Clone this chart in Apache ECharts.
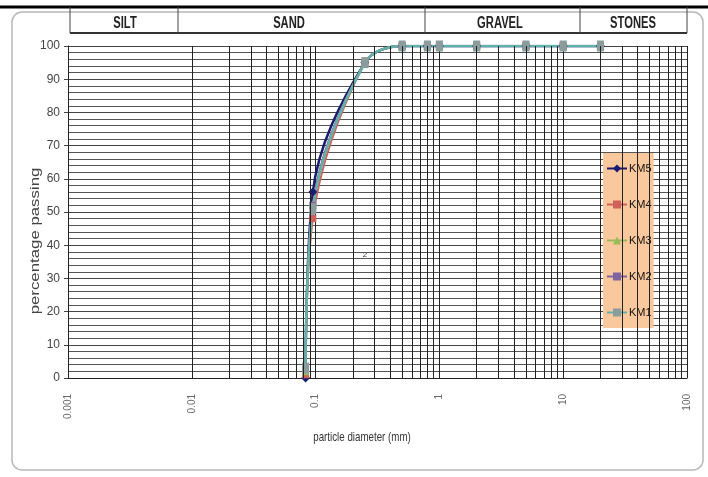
<!DOCTYPE html>
<html>
<head>
<meta charset="utf-8">
<script src="https://cdn.jsdelivr.net/npm/echarts@6/dist/echarts.min.js"></script>
<style>
  html, body { margin: 0; padding: 0; background: #fff; }
  #chart { width: 708px; height: 477px; }
</style>
</head>
<body>
<div id="chart"></div>
<script>
// sieve sizes (mm) and percentage passing for each sample
var sizes = [0.083, 0.095, 0.25, 0.5, 0.8, 1, 2, 5, 10, 20];
var km5 = [0, 56, 95, 100, 100, 100, 100, 100, 100, 100];
var km4 = [1, 48, 95, 100, 100, 100, 100, 100, 100, 100];
var km3 = [2, 52, 95, 100, 100, 100, 100, 100, 100, 100];
var km2 = [3, 52, 95, 100, 100, 100, 100, 100, 100, 100];
var km1 = [3, 51, 95, 100, 100, 100, 100, 100, 100, 100];

var xTickLabels = ["0.001", "0.01", "0.1", "1", "10", "100"];
var soilClasses = ["SILT", "SAND", "GRAVEL", "STONES"];

var font = "'Liberation Sans', sans-serif";

function pairs(vals) {
  return sizes.map(function (s, i) { return [s, vals[i]]; });
}

// log grid lines at 2..9 of every decade
var logLines = [];
for (var e = -3; e <= 1; e++) {
  for (var m = 2; m <= 9; m++) {
    logLines.push({ xAxis: m * Math.pow(10, e) });
  }
}

var chart = echarts.init(document.getElementById("chart"));

var option = {
  backgroundColor: "#fff",
  animation: false,
  grid: { left: 68, right: 21, top: 46, bottom: 99 },
  legend: {
    orient: "vertical",
    left: 603,
    top: 153,
    backgroundColor: "#f9c89c",
    padding: [10, 2, 10, 3],
    itemGap: 25,
    itemWidth: 20,
    itemHeight: 10,
    textStyle: { color: "#111", fontSize: 11, fontFamily: font, padding: [0, 0, 0, -3] },
    data: ["KM5", "KM4", "KM3", "KM2", "KM1"]
  },
  xAxis: {
    type: "log",
    logBase: 10,
    min: 0.001,
    max: 100,
    axisLine: { show: true, lineStyle: { color: "#222" } },
    axisTick: { show: false },
    axisLabel: {
      rotate: 90,
      margin: 16,
      fontSize: 10,
      color: "#666",
      fontFamily: font,
      formatter: function (v) {
        var i = Math.round(Math.log10(v)) + 3;
        return xTickLabels[i] || "";
      }
    },
    splitLine: { show: true, lineStyle: { color: "#222", width: 1 } }
  },
  yAxis: {
    type: "value",
    min: 0,
    max: 100,
    interval: 10,
    axisLine: { show: true, lineStyle: { color: "#222" } },
    axisTick: { show: true, length: 4, lineStyle: { color: "#444" } },
    axisLabel: { fontSize: 12, color: "#444", margin: 8, fontFamily: font },
    splitLine: { show: true, lineStyle: { color: "#444", width: 1 } },
    minorTick: { show: false, splitNumber: 5 },
    minorSplitLine: { show: true, lineStyle: { color: "#555", width: 1 } }
  },
  graphic: [
    { type: "rect", shape: { x: 12, y: 12, width: 691, height: 458, r: 10 },
      style: { fill: null, stroke: "#b8b8b8", lineWidth: 1.5 }, silent: true },
    { type: "line", shape: { x1: 0, y1: 7, x2: 708, y2: 7 },
      style: { stroke: "#000", lineWidth: 3 } },
    { type: "line", shape: { x1: 70, y1: 33, x2: 687, y2: 33 },
      style: { stroke: "#333", lineWidth: 2 } },
    { type: "line", shape: { x1: 70, y1: 7, x2: 70, y2: 33 }, style: { stroke: "#444", lineWidth: 1 } },
    { type: "line", shape: { x1: 178, y1: 7, x2: 178, y2: 33 }, style: { stroke: "#444", lineWidth: 1 } },
    { type: "line", shape: { x1: 425, y1: 7, x2: 425, y2: 33 }, style: { stroke: "#444", lineWidth: 1 } },
    { type: "line", shape: { x1: 580, y1: 7, x2: 580, y2: 33 }, style: { stroke: "#444", lineWidth: 1 } },
    { type: "line", shape: { x1: 687, y1: 7, x2: 687, y2: 33 }, style: { stroke: "#444", lineWidth: 1 } },
    { type: "text", x: 125, y: 24, scaleX: 0.7,
      style: { text: soilClasses[0], font: "bold 16px " + font, fill: "#222", align: "center", verticalAlign: "middle" } },
    { type: "text", x: 289, y: 24, scaleX: 0.7,
      style: { text: soilClasses[1], font: "bold 16px " + font, fill: "#222", align: "center", verticalAlign: "middle" } },
    { type: "text", x: 500, y: 24, scaleX: 0.7,
      style: { text: soilClasses[2], font: "bold 16px " + font, fill: "#222", align: "center", verticalAlign: "middle" } },
    { type: "text", x: 633, y: 24, scaleX: 0.7,
      style: { text: soilClasses[3], font: "bold 16px " + font, fill: "#222", align: "center", verticalAlign: "middle" } },
    { type: "text", x: 36, y: 241, rotation: Math.PI / 2, scaleX: 1.4,
      style: { text: "percentage passing", font: "12px " + font, fill: "#444", align: "center", verticalAlign: "middle" } },
    { type: "text", x: 362, y: 437, scaleX: 0.75,
      style: { text: "particle diameter (mm)", font: "13px " + font, fill: "#333", align: "center", verticalAlign: "middle" } },
    { type: "text", x: 365, y: 255,
      style: { text: "2", font: "8px " + font, fill: "#333", align: "center", verticalAlign: "middle" } }
  ],
  series: [
    {
      name: "grid",
      type: "line",
      data: [],
      z: 1,
      silent: true,
      markLine: {
        silent: true,
        symbol: ["none", "none"],
        label: { show: false },
        lineStyle: { color: "#222", width: 1, type: "solid" },
        data: logLines
      }
    },
    {
      name: "KM5", type: "line", smooth: 0.35, data: pairs(km5),
      symbol: "diamond", symbolSize: 9,
      lineStyle: { color: "#1b1b70", width: 2.5 }, itemStyle: { color: "#1b1b70" }
    },
    {
      name: "KM4", type: "line", smooth: 0.35, data: pairs(km4),
      symbol: "rect", symbolSize: 7,
      lineStyle: { color: "#d0605a", width: 2 }, itemStyle: { color: "#d0605a" }
    },
    {
      name: "KM3", type: "line", smooth: 0.35, data: pairs(km3),
      symbol: "triangle", symbolSize: 8,
      lineStyle: { color: "#9bbb59", width: 2 }, itemStyle: { color: "#9bbb59" }
    },
    {
      name: "KM2", type: "line", smooth: 0.35, data: pairs(km2),
      symbol: "rect", symbolSize: 7,
      lineStyle: { color: "#8064a2", width: 2 }, itemStyle: { color: "#8064a2" }
    },
    {
      name: "KM1", type: "line", smooth: 0.35, data: pairs(km1),
      symbol: "rect", symbolSize: [7, 11],
      lineStyle: { color: "#62b2aa", width: 2.5 }, itemStyle: { color: "#8a9c9c" }
    }
  ]
};

chart.setOption(option);
</script>
</body>
</html>
